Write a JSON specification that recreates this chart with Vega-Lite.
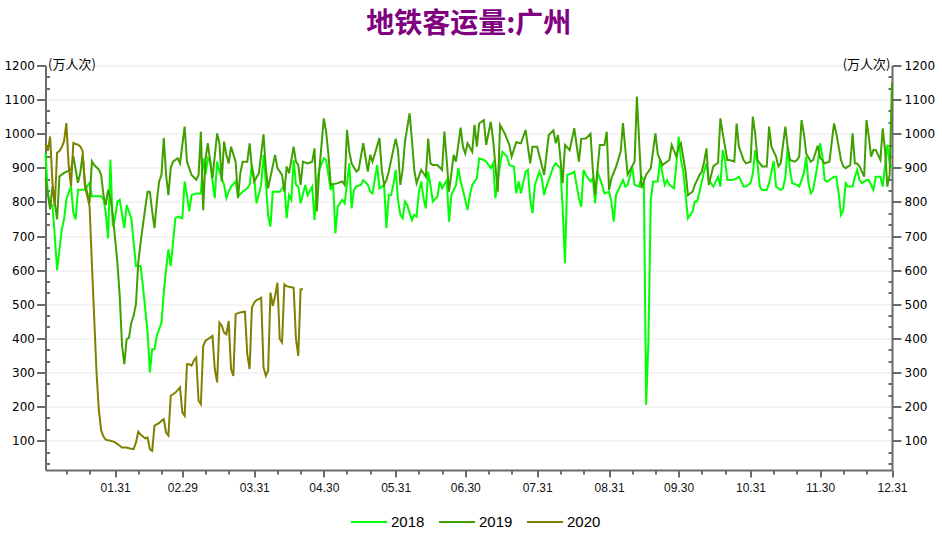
{
"$schema": "https://vega.github.io/schema/vega-lite/v6.json",
"width": 846.5,
"height": 404.5,
"autosize": {"type": "none"},
"padding": {"left": 45.5, "top": 65.5, "right": 50, "bottom": 63},
"background": "white",
"title": {"text": "地铁客运量:广州", "color": "#800080", "fontSize": 28, "fontWeight": "bold", "font": "Noto Sans CJK SC", "anchor": "middle", "frame": "group", "offset": 19},
"data": {"values": [
{"date":"2020-01-01","year":"2018","value":944},{"date":"2020-01-02","year":"2018","value":827},{"date":"2020-01-03","year":"2018","value":788},{"date":"2020-01-04","year":"2018","value":790},{"date":"2020-01-05","year":"2018","value":700},{"date":"2020-01-06","year":"2018","value":600},{"date":"2020-01-07","year":"2018","value":659},{"date":"2020-01-08","year":"2018","value":718},{"date":"2020-01-09","year":"2018","value":749},{"date":"2020-01-10","year":"2018","value":807},{"date":"2020-01-12","year":"2018","value":846},{"date":"2020-01-13","year":"2018","value":768},{"date":"2020-01-14","year":"2018","value":749},{"date":"2020-01-15","year":"2018","value":836},{"date":"2020-01-18","year":"2018","value":836},{"date":"2020-01-20","year":"2018","value":856},{"date":"2020-01-21","year":"2018","value":817},{"date":"2020-01-25","year":"2018","value":817},{"date":"2020-01-26","year":"2018","value":807},{"date":"2020-01-27","year":"2018","value":768},{"date":"2020-01-28","year":"2018","value":693},{"date":"2020-01-29","year":"2018","value":924},{"date":"2020-01-30","year":"2018","value":729},{"date":"2020-01-31","year":"2018","value":752},
{"date":"2020-02-01","year":"2018","value":801},{"date":"2020-02-02","year":"2018","value":806},{"date":"2020-02-04","year":"2018","value":723},{"date":"2020-02-05","year":"2018","value":791},{"date":"2020-02-07","year":"2018","value":752},{"date":"2020-02-09","year":"2018","value":612},{"date":"2020-02-11","year":"2018","value":612},{"date":"2020-02-12","year":"2018","value":554},{"date":"2020-02-14","year":"2018","value":420},{"date":"2020-02-15","year":"2018","value":300},{"date":"2020-02-16","year":"2018","value":368},{"date":"2020-02-17","year":"2018","value":368},{"date":"2020-02-18","year":"2018","value":407},{"date":"2020-02-20","year":"2018","value":446},{"date":"2020-02-21","year":"2018","value":534},{"date":"2020-02-22","year":"2018","value":602},{"date":"2020-02-23","year":"2018","value":661},{"date":"2020-02-24","year":"2018","value":612},{"date":"2020-02-26","year":"2018","value":752},{"date":"2020-02-27","year":"2018","value":757},{"date":"2020-02-29","year":"2018","value":752},
{"date":"2020-03-01","year":"2018","value":860},{"date":"2020-03-02","year":"2018","value":820},{"date":"2020-03-03","year":"2018","value":772},{"date":"2020-03-04","year":"2018","value":820},{"date":"2020-03-06","year":"2018","value":825},{"date":"2020-03-08","year":"2018","value":825},{"date":"2020-03-09","year":"2018","value":928},{"date":"2020-03-10","year":"2018","value":880},{"date":"2020-03-11","year":"2018","value":928},{"date":"2020-03-12","year":"2018","value":918},{"date":"2020-03-13","year":"2018","value":860},{"date":"2020-03-14","year":"2018","value":811},{"date":"2020-03-15","year":"2018","value":918},{"date":"2020-03-16","year":"2018","value":889},{"date":"2020-03-18","year":"2018","value":850},{"date":"2020-03-19","year":"2018","value":811},{"date":"2020-03-20","year":"2018","value":830},{"date":"2020-03-21","year":"2018","value":845},{"date":"2020-03-23","year":"2018","value":860},{"date":"2020-03-24","year":"2018","value":816},{"date":"2020-03-26","year":"2018","value":830},{"date":"2020-03-28","year":"2018","value":840},{"date":"2020-03-29","year":"2018","value":850},{"date":"2020-03-30","year":"2018","value":908},{"date":"2020-03-31","year":"2018","value":869},
{"date":"2020-04-01","year":"2018","value":796},{"date":"2020-04-03","year":"2018","value":850},{"date":"2020-04-04","year":"2018","value":938},{"date":"2020-04-05","year":"2018","value":860},{"date":"2020-04-06","year":"2018","value":760},{"date":"2020-04-07","year":"2018","value":728},{"date":"2020-04-08","year":"2018","value":830},{"date":"2020-04-11","year":"2018","value":830},{"date":"2020-04-13","year":"2018","value":850},{"date":"2020-04-14","year":"2018","value":752},{"date":"2020-04-15","year":"2018","value":820},{"date":"2020-04-16","year":"2018","value":806},{"date":"2020-04-17","year":"2018","value":923},{"date":"2020-04-18","year":"2018","value":850},{"date":"2020-04-19","year":"2018","value":845},{"date":"2020-04-20","year":"2018","value":796},{"date":"2020-04-22","year":"2018","value":850},{"date":"2020-04-23","year":"2018","value":820},{"date":"2020-04-25","year":"2018","value":845},{"date":"2020-04-26","year":"2018","value":747},{"date":"2020-04-27","year":"2018","value":855},{"date":"2020-04-28","year":"2018","value":894},{"date":"2020-04-30","year":"2018","value":928},
{"date":"2020-05-01","year":"2018","value":923},{"date":"2020-05-03","year":"2018","value":835},{"date":"2020-05-04","year":"2018","value":855},{"date":"2020-05-05","year":"2018","value":708},{"date":"2020-05-06","year":"2018","value":786},{"date":"2020-05-08","year":"2018","value":806},{"date":"2020-05-09","year":"2018","value":796},{"date":"2020-05-11","year":"2018","value":913},{"date":"2020-05-12","year":"2018","value":781},{"date":"2020-05-13","year":"2018","value":835},{"date":"2020-05-14","year":"2018","value":845},{"date":"2020-05-16","year":"2018","value":850},{"date":"2020-05-17","year":"2018","value":864},{"date":"2020-05-19","year":"2018","value":850},{"date":"2020-05-20","year":"2018","value":830},{"date":"2020-05-21","year":"2018","value":825},{"date":"2020-05-23","year":"2018","value":908},{"date":"2020-05-24","year":"2018","value":840},{"date":"2020-05-26","year":"2018","value":850},{"date":"2020-05-27","year":"2018","value":723},{"date":"2020-05-28","year":"2018","value":820},{"date":"2020-05-29","year":"2018","value":820},{"date":"2020-05-30","year":"2018","value":850},{"date":"2020-05-31","year":"2018","value":894},
{"date":"2020-06-01","year":"2018","value":806},{"date":"2020-06-02","year":"2018","value":762},{"date":"2020-06-03","year":"2018","value":752},{"date":"2020-06-04","year":"2018","value":801},{"date":"2020-06-05","year":"2018","value":791},{"date":"2020-06-06","year":"2018","value":767},{"date":"2020-06-07","year":"2018","value":747},{"date":"2020-06-08","year":"2018","value":762},{"date":"2020-06-09","year":"2018","value":757},{"date":"2020-06-10","year":"2018","value":830},{"date":"2020-06-11","year":"2018","value":860},{"date":"2020-06-12","year":"2018","value":811},{"date":"2020-06-13","year":"2018","value":781},{"date":"2020-06-14","year":"2018","value":889},{"date":"2020-06-15","year":"2018","value":850},{"date":"2020-06-16","year":"2018","value":801},{"date":"2020-06-18","year":"2018","value":816},{"date":"2020-06-19","year":"2018","value":860},{"date":"2020-06-20","year":"2018","value":840},{"date":"2020-06-22","year":"2018","value":864},{"date":"2020-06-23","year":"2018","value":742},{"date":"2020-06-24","year":"2018","value":820},{"date":"2020-06-26","year":"2018","value":850},{"date":"2020-06-27","year":"2018","value":899},{"date":"2020-06-28","year":"2018","value":860},{"date":"2020-06-29","year":"2018","value":835},
{"date":"2020-07-01","year":"2018","value":776},{"date":"2020-07-02","year":"2018","value":820},{"date":"2020-07-03","year":"2018","value":850},{"date":"2020-07-05","year":"2018","value":869},{"date":"2020-07-06","year":"2018","value":928},{"date":"2020-07-08","year":"2018","value":923},{"date":"2020-07-09","year":"2018","value":918},{"date":"2020-07-11","year":"2018","value":899},{"date":"2020-07-12","year":"2018","value":913},{"date":"2020-07-13","year":"2018","value":811},{"date":"2020-07-15","year":"2018","value":908},{"date":"2020-07-16","year":"2018","value":947},{"date":"2020-07-18","year":"2018","value":933},{"date":"2020-07-19","year":"2018","value":908},{"date":"2020-07-21","year":"2018","value":903},{"date":"2020-07-22","year":"2018","value":825},{"date":"2020-07-23","year":"2018","value":860},{"date":"2020-07-24","year":"2018","value":825},{"date":"2020-07-26","year":"2018","value":889},{"date":"2020-07-27","year":"2018","value":894},{"date":"2020-07-28","year":"2018","value":806},{"date":"2020-07-29","year":"2018","value":767},{"date":"2020-07-30","year":"2018","value":850},{"date":"2020-07-31","year":"2018","value":869},
{"date":"2020-08-01","year":"2018","value":889},{"date":"2020-08-02","year":"2018","value":870},{"date":"2020-08-03","year":"2018","value":820},{"date":"2020-08-04","year":"2018","value":845},{"date":"2020-08-06","year":"2018","value":884},{"date":"2020-08-07","year":"2018","value":903},{"date":"2020-08-08","year":"2018","value":913},{"date":"2020-08-10","year":"2018","value":899},{"date":"2020-08-11","year":"2018","value":781},{"date":"2020-08-12","year":"2018","value":620},{"date":"2020-08-13","year":"2018","value":880},{"date":"2020-08-15","year":"2018","value":884},{"date":"2020-08-16","year":"2018","value":889},{"date":"2020-08-18","year":"2018","value":811},{"date":"2020-08-19","year":"2018","value":786},{"date":"2020-08-20","year":"2018","value":894},{"date":"2020-08-21","year":"2018","value":879},{"date":"2020-08-23","year":"2018","value":860},{"date":"2020-08-24","year":"2018","value":869},{"date":"2020-08-25","year":"2018","value":796},{"date":"2020-08-26","year":"2018","value":889},{"date":"2020-08-28","year":"2018","value":850},{"date":"2020-08-29","year":"2018","value":825},{"date":"2020-08-31","year":"2018","value":830},
{"date":"2020-09-01","year":"2018","value":801},{"date":"2020-09-02","year":"2018","value":742},{"date":"2020-09-03","year":"2018","value":820},{"date":"2020-09-05","year":"2018","value":850},{"date":"2020-09-06","year":"2018","value":864},{"date":"2020-09-07","year":"2018","value":845},{"date":"2020-09-08","year":"2018","value":850},{"date":"2020-09-10","year":"2018","value":903},{"date":"2020-09-11","year":"2018","value":850},{"date":"2020-09-13","year":"2018","value":845},{"date":"2020-09-14","year":"2018","value":874},{"date":"2020-09-15","year":"2018","value":864},{"date":"2020-09-16","year":"2018","value":205},{"date":"2020-09-17","year":"2018","value":400},{"date":"2020-09-18","year":"2018","value":806},{"date":"2020-09-19","year":"2018","value":860},{"date":"2020-09-21","year":"2018","value":860},{"date":"2020-09-22","year":"2018","value":923},{"date":"2020-09-23","year":"2018","value":884},{"date":"2020-09-24","year":"2018","value":850},{"date":"2020-09-25","year":"2018","value":864},{"date":"2020-09-26","year":"2018","value":850},{"date":"2020-09-28","year":"2018","value":840},{"date":"2020-09-29","year":"2018","value":908},{"date":"2020-09-30","year":"2018","value":991},
{"date":"2020-10-01","year":"2018","value":923},{"date":"2020-10-02","year":"2018","value":889},{"date":"2020-10-03","year":"2018","value":820},{"date":"2020-10-04","year":"2018","value":752},{"date":"2020-10-06","year":"2018","value":772},{"date":"2020-10-07","year":"2018","value":801},{"date":"2020-10-08","year":"2018","value":801},{"date":"2020-10-10","year":"2018","value":860},{"date":"2020-10-11","year":"2018","value":889},{"date":"2020-10-12","year":"2018","value":913},{"date":"2020-10-13","year":"2018","value":864},{"date":"2020-10-15","year":"2018","value":845},{"date":"2020-10-17","year":"2018","value":874},{"date":"2020-10-18","year":"2018","value":845},{"date":"2020-10-19","year":"2018","value":952},{"date":"2020-10-20","year":"2018","value":923},{"date":"2020-10-21","year":"2018","value":864},{"date":"2020-10-23","year":"2018","value":864},{"date":"2020-10-25","year":"2018","value":869},{"date":"2020-10-26","year":"2018","value":874},{"date":"2020-10-28","year":"2018","value":845},{"date":"2020-10-29","year":"2018","value":845},{"date":"2020-10-31","year":"2018","value":855},
{"date":"2020-11-01","year":"2018","value":884},{"date":"2020-11-02","year":"2018","value":952},{"date":"2020-11-03","year":"2018","value":913},{"date":"2020-11-04","year":"2018","value":845},{"date":"2020-11-05","year":"2018","value":835},{"date":"2020-11-07","year":"2018","value":835},{"date":"2020-11-08","year":"2018","value":855},{"date":"2020-11-10","year":"2018","value":920},{"date":"2020-11-11","year":"2018","value":845},{"date":"2020-11-13","year":"2018","value":835},{"date":"2020-11-14","year":"2018","value":840},{"date":"2020-11-15","year":"2018","value":870},{"date":"2020-11-16","year":"2018","value":962},{"date":"2020-11-17","year":"2018","value":894},{"date":"2020-11-18","year":"2018","value":855},{"date":"2020-11-20","year":"2018","value":850},{"date":"2020-11-21","year":"2018","value":845},{"date":"2020-11-23","year":"2018","value":884},{"date":"2020-11-24","year":"2018","value":933},{"date":"2020-11-25","year":"2018","value":855},{"date":"2020-11-26","year":"2018","value":825},{"date":"2020-11-27","year":"2018","value":835},{"date":"2020-11-29","year":"2018","value":913},{"date":"2020-11-30","year":"2018","value":972},
{"date":"2020-12-01","year":"2018","value":933},{"date":"2020-12-02","year":"2018","value":864},{"date":"2020-12-03","year":"2018","value":859},{"date":"2020-12-06","year":"2018","value":874},{"date":"2020-12-07","year":"2018","value":874},{"date":"2020-12-08","year":"2018","value":825},{"date":"2020-12-09","year":"2018","value":762},{"date":"2020-12-10","year":"2018","value":776},{"date":"2020-12-11","year":"2018","value":855},{"date":"2020-12-12","year":"2018","value":845},{"date":"2020-12-14","year":"2018","value":845},{"date":"2020-12-15","year":"2018","value":874},{"date":"2020-12-16","year":"2018","value":894},{"date":"2020-12-17","year":"2018","value":864},{"date":"2020-12-18","year":"2018","value":855},{"date":"2020-12-20","year":"2018","value":864},{"date":"2020-12-21","year":"2018","value":864},{"date":"2020-12-23","year":"2018","value":835},{"date":"2020-12-24","year":"2018","value":874},{"date":"2020-12-26","year":"2018","value":874},{"date":"2020-12-27","year":"2018","value":845},{"date":"2020-12-29","year":"2018","value":967},{"date":"2020-12-30","year":"2018","value":913},{"date":"2020-12-31","year":"2018","value":900},

{"date":"2020-01-01","year":"2019","value":870},{"date":"2020-01-03","year":"2019","value":778},{"date":"2020-01-04","year":"2019","value":846},{"date":"2020-01-06","year":"2019","value":749},{"date":"2020-01-07","year":"2019","value":875},{"date":"2020-01-09","year":"2019","value":885},{"date":"2020-01-12","year":"2019","value":895},{"date":"2020-01-13","year":"2019","value":934},{"date":"2020-01-15","year":"2019","value":856},{"date":"2020-01-16","year":"2019","value":885},{"date":"2020-01-17","year":"2019","value":939},{"date":"2020-01-18","year":"2019","value":856},{"date":"2020-01-20","year":"2019","value":797},{"date":"2020-01-21","year":"2019","value":919},{"date":"2020-01-22","year":"2019","value":908},{"date":"2020-01-24","year":"2019","value":895},{"date":"2020-01-25","year":"2019","value":879},{"date":"2020-01-26","year":"2019","value":820},{"date":"2020-01-27","year":"2019","value":791},{"date":"2020-01-28","year":"2019","value":836},{"date":"2020-01-29","year":"2019","value":811},{"date":"2020-01-30","year":"2019","value":762},{"date":"2020-01-31","year":"2019","value":693},
{"date":"2020-02-01","year":"2019","value":622},{"date":"2020-02-02","year":"2019","value":524},{"date":"2020-02-03","year":"2019","value":380},{"date":"2020-02-04","year":"2019","value":324},{"date":"2020-02-05","year":"2019","value":398},{"date":"2020-02-06","year":"2019","value":402},{"date":"2020-02-07","year":"2019","value":446},{"date":"2020-02-08","year":"2019","value":466},{"date":"2020-02-09","year":"2019","value":500},{"date":"2020-02-10","year":"2019","value":622},{"date":"2020-02-11","year":"2019","value":680},{"date":"2020-02-12","year":"2019","value":732},{"date":"2020-02-14","year":"2019","value":830},{"date":"2020-02-15","year":"2019","value":830},{"date":"2020-02-16","year":"2019","value":772},{"date":"2020-02-17","year":"2019","value":723},{"date":"2020-02-18","year":"2019","value":801},{"date":"2020-02-19","year":"2019","value":860},{"date":"2020-02-20","year":"2019","value":879},{"date":"2020-02-21","year":"2019","value":987},{"date":"2020-02-22","year":"2019","value":879},{"date":"2020-02-23","year":"2019","value":820},{"date":"2020-02-24","year":"2019","value":900},{"date":"2020-02-25","year":"2019","value":918},{"date":"2020-02-27","year":"2019","value":928},{"date":"2020-02-28","year":"2019","value":913},{"date":"2020-02-29","year":"2019","value":967},
{"date":"2020-03-01","year":"2019","value":1021},{"date":"2020-03-02","year":"2019","value":918},{"date":"2020-03-04","year":"2019","value":879},{"date":"2020-03-06","year":"2019","value":865},{"date":"2020-03-07","year":"2019","value":879},{"date":"2020-03-08","year":"2019","value":1006},{"date":"2020-03-09","year":"2019","value":776},{"date":"2020-03-10","year":"2019","value":928},{"date":"2020-03-11","year":"2019","value":972},{"date":"2020-03-13","year":"2019","value":870},{"date":"2020-03-15","year":"2019","value":1001},{"date":"2020-03-16","year":"2019","value":972},{"date":"2020-03-17","year":"2019","value":860},{"date":"2020-03-18","year":"2019","value":977},{"date":"2020-03-19","year":"2019","value":938},{"date":"2020-03-20","year":"2019","value":913},{"date":"2020-03-21","year":"2019","value":962},{"date":"2020-03-23","year":"2019","value":918},{"date":"2020-03-24","year":"2019","value":811},{"date":"2020-03-25","year":"2019","value":884},{"date":"2020-03-26","year":"2019","value":918},{"date":"2020-03-28","year":"2019","value":918},{"date":"2020-03-29","year":"2019","value":972},{"date":"2020-03-30","year":"2019","value":899},{"date":"2020-03-31","year":"2019","value":860},
{"date":"2020-04-02","year":"2019","value":884},{"date":"2020-04-04","year":"2019","value":998},{"date":"2020-04-05","year":"2019","value":899},{"date":"2020-04-06","year":"2019","value":840},{"date":"2020-04-09","year":"2019","value":938},{"date":"2020-04-10","year":"2019","value":899},{"date":"2020-04-12","year":"2019","value":879},{"date":"2020-04-13","year":"2019","value":830},{"date":"2020-04-14","year":"2019","value":904},{"date":"2020-04-15","year":"2019","value":884},{"date":"2020-04-17","year":"2019","value":962},{"date":"2020-04-18","year":"2019","value":918},{"date":"2020-04-19","year":"2019","value":908},{"date":"2020-04-20","year":"2019","value":850},{"date":"2020-04-21","year":"2019","value":918},{"date":"2020-04-23","year":"2019","value":913},{"date":"2020-04-25","year":"2019","value":918},{"date":"2020-04-26","year":"2019","value":957},{"date":"2020-04-27","year":"2019","value":772},{"date":"2020-04-28","year":"2019","value":889},{"date":"2020-04-30","year":"2019","value":1045},
{"date":"2020-05-01","year":"2019","value":1006},{"date":"2020-05-02","year":"2019","value":938},{"date":"2020-05-03","year":"2019","value":850},{"date":"2020-05-06","year":"2019","value":855},{"date":"2020-05-08","year":"2019","value":860},{"date":"2020-05-09","year":"2019","value":850},{"date":"2020-05-10","year":"2019","value":1011},{"date":"2020-05-11","year":"2019","value":947},{"date":"2020-05-12","year":"2019","value":913},{"date":"2020-05-14","year":"2019","value":889},{"date":"2020-05-15","year":"2019","value":894},{"date":"2020-05-17","year":"2019","value":972},{"date":"2020-05-19","year":"2019","value":889},{"date":"2020-05-20","year":"2019","value":938},{"date":"2020-05-21","year":"2019","value":918},{"date":"2020-05-24","year":"2019","value":987},{"date":"2020-05-25","year":"2019","value":894},{"date":"2020-05-26","year":"2019","value":850},{"date":"2020-05-27","year":"2019","value":864},{"date":"2020-05-28","year":"2019","value":889},{"date":"2020-05-31","year":"2019","value":985},
{"date":"2020-06-01","year":"2019","value":952},{"date":"2020-06-02","year":"2019","value":850},{"date":"2020-06-03","year":"2019","value":894},{"date":"2020-06-04","year":"2019","value":977},{"date":"2020-06-06","year":"2019","value":1060},{"date":"2020-06-07","year":"2019","value":982},{"date":"2020-06-08","year":"2019","value":894},{"date":"2020-06-09","year":"2019","value":855},{"date":"2020-06-11","year":"2019","value":894},{"date":"2020-06-12","year":"2019","value":884},{"date":"2020-06-13","year":"2019","value":874},{"date":"2020-06-14","year":"2019","value":986},{"date":"2020-06-15","year":"2019","value":913},{"date":"2020-06-16","year":"2019","value":908},{"date":"2020-06-18","year":"2019","value":908},{"date":"2020-06-20","year":"2019","value":894},{"date":"2020-06-21","year":"2019","value":1006},{"date":"2020-06-22","year":"2019","value":923},{"date":"2020-06-23","year":"2019","value":830},{"date":"2020-06-25","year":"2019","value":938},{"date":"2020-06-26","year":"2019","value":918},{"date":"2020-06-28","year":"2019","value":1018},{"date":"2020-06-29","year":"2019","value":962},{"date":"2020-06-30","year":"2019","value":942},
{"date":"2020-07-01","year":"2019","value":972},{"date":"2020-07-03","year":"2019","value":947},{"date":"2020-07-04","year":"2019","value":1026},{"date":"2020-07-05","year":"2019","value":962},{"date":"2020-07-06","year":"2019","value":1030},{"date":"2020-07-08","year":"2019","value":1040},{"date":"2020-07-09","year":"2019","value":967},{"date":"2020-07-11","year":"2019","value":1035},{"date":"2020-07-12","year":"2019","value":982},{"date":"2020-07-14","year":"2019","value":830},{"date":"2020-07-15","year":"2019","value":1026},{"date":"2020-07-17","year":"2019","value":1001},{"date":"2020-07-19","year":"2019","value":967},{"date":"2020-07-20","year":"2019","value":933},{"date":"2020-07-22","year":"2019","value":975},{"date":"2020-07-24","year":"2019","value":972},{"date":"2020-07-26","year":"2019","value":1011},{"date":"2020-07-27","year":"2019","value":962},{"date":"2020-07-28","year":"2019","value":913},{"date":"2020-07-29","year":"2019","value":962},{"date":"2020-07-31","year":"2019","value":962},
{"date":"2020-08-03","year":"2019","value":879},{"date":"2020-08-05","year":"2019","value":996},{"date":"2020-08-07","year":"2019","value":1010},{"date":"2020-08-08","year":"2019","value":972},{"date":"2020-08-09","year":"2019","value":996},{"date":"2020-08-10","year":"2019","value":928},{"date":"2020-08-11","year":"2019","value":855},{"date":"2020-08-12","year":"2019","value":967},{"date":"2020-08-14","year":"2019","value":952},{"date":"2020-08-16","year":"2019","value":1016},{"date":"2020-08-18","year":"2019","value":918},{"date":"2020-08-19","year":"2019","value":985},{"date":"2020-08-21","year":"2019","value":986},{"date":"2020-08-23","year":"2019","value":1000},{"date":"2020-08-24","year":"2019","value":894},{"date":"2020-08-25","year":"2019","value":820},{"date":"2020-08-27","year":"2019","value":967},{"date":"2020-08-29","year":"2019","value":967},{"date":"2020-08-30","year":"2019","value":1006},{"date":"2020-08-31","year":"2019","value":835},
{"date":"2020-09-01","year":"2019","value":869},{"date":"2020-09-03","year":"2019","value":903},{"date":"2020-09-05","year":"2019","value":947},{"date":"2020-09-06","year":"2019","value":1031},{"date":"2020-09-08","year":"2019","value":880},{"date":"2020-09-11","year":"2019","value":918},{"date":"2020-09-12","year":"2019","value":1109},{"date":"2020-09-14","year":"2019","value":840},{"date":"2020-09-16","year":"2019","value":880},{"date":"2020-09-18","year":"2019","value":899},{"date":"2020-09-20","year":"2019","value":1001},{"date":"2020-09-21","year":"2019","value":940},{"date":"2020-09-23","year":"2019","value":908},{"date":"2020-09-26","year":"2019","value":923},{"date":"2020-09-27","year":"2019","value":967},{"date":"2020-09-29","year":"2019","value":933},{"date":"2020-09-30","year":"2019","value":960},
{"date":"2020-10-01","year":"2019","value":972},{"date":"2020-10-03","year":"2019","value":889},{"date":"2020-10-04","year":"2019","value":820},{"date":"2020-10-06","year":"2019","value":830},{"date":"2020-10-07","year":"2019","value":850},{"date":"2020-10-09","year":"2019","value":879},{"date":"2020-10-10","year":"2019","value":889},{"date":"2020-10-11","year":"2019","value":918},{"date":"2020-10-12","year":"2019","value":957},{"date":"2020-10-13","year":"2019","value":850},{"date":"2020-10-15","year":"2019","value":905},{"date":"2020-10-17","year":"2019","value":915},{"date":"2020-10-18","year":"2019","value":1045},{"date":"2020-10-19","year":"2019","value":1001},{"date":"2020-10-21","year":"2019","value":923},{"date":"2020-10-22","year":"2019","value":923},{"date":"2020-10-24","year":"2019","value":918},{"date":"2020-10-25","year":"2019","value":1030},{"date":"2020-10-26","year":"2019","value":962},{"date":"2020-10-28","year":"2019","value":923},{"date":"2020-10-29","year":"2019","value":913},{"date":"2020-10-31","year":"2019","value":918},
{"date":"2020-11-01","year":"2019","value":1050},{"date":"2020-11-02","year":"2019","value":1001},{"date":"2020-11-03","year":"2019","value":923},{"date":"2020-11-05","year":"2019","value":904},{"date":"2020-11-07","year":"2019","value":904},{"date":"2020-11-08","year":"2019","value":1021},{"date":"2020-11-09","year":"2019","value":962},{"date":"2020-11-11","year":"2019","value":933},{"date":"2020-11-12","year":"2019","value":904},{"date":"2020-11-13","year":"2019","value":913},{"date":"2020-11-15","year":"2019","value":1021},{"date":"2020-11-16","year":"2019","value":962},{"date":"2020-11-17","year":"2019","value":923},{"date":"2020-11-19","year":"2019","value":918},{"date":"2020-11-20","year":"2019","value":923},{"date":"2020-11-21","year":"2019","value":933},{"date":"2020-11-22","year":"2019","value":1040},{"date":"2020-11-23","year":"2019","value":1001},{"date":"2020-11-24","year":"2019","value":942},{"date":"2020-11-26","year":"2019","value":918},{"date":"2020-11-27","year":"2019","value":923},{"date":"2020-11-29","year":"2019","value":965},{"date":"2020-11-30","year":"2019","value":930},
{"date":"2020-12-02","year":"2019","value":913},{"date":"2020-12-04","year":"2019","value":918},{"date":"2020-12-06","year":"2019","value":1030},{"date":"2020-12-07","year":"2019","value":1001},{"date":"2020-12-09","year":"2019","value":923},{"date":"2020-12-10","year":"2019","value":904},{"date":"2020-12-11","year":"2019","value":899},{"date":"2020-12-13","year":"2019","value":908},{"date":"2020-12-14","year":"2019","value":1001},{"date":"2020-12-15","year":"2019","value":913},{"date":"2020-12-16","year":"2019","value":913},{"date":"2020-12-17","year":"2019","value":904},{"date":"2020-12-19","year":"2019","value":874},{"date":"2020-12-20","year":"2019","value":1040},{"date":"2020-12-21","year":"2019","value":991},{"date":"2020-12-22","year":"2019","value":933},{"date":"2020-12-23","year":"2019","value":952},{"date":"2020-12-24","year":"2019","value":952},{"date":"2020-12-26","year":"2019","value":923},{"date":"2020-12-27","year":"2019","value":1016},{"date":"2020-12-28","year":"2019","value":952},{"date":"2020-12-29","year":"2019","value":845},{"date":"2020-12-30","year":"2019","value":880},{"date":"2020-12-31","year":"2019","value":1150},

{"date":"2020-01-01","year":"2020","value":970},{"date":"2020-01-02","year":"2020","value":950},{"date":"2020-01-03","year":"2020","value":992},{"date":"2020-01-04","year":"2020","value":856},{"date":"2020-01-05","year":"2020","value":788},{"date":"2020-01-06","year":"2020","value":944},{"date":"2020-01-07","year":"2020","value":949},{"date":"2020-01-08","year":"2020","value":960},{"date":"2020-01-09","year":"2020","value":978},{"date":"2020-01-10","year":"2020","value":1031},{"date":"2020-01-11","year":"2020","value":905},{"date":"2020-01-12","year":"2020","value":846},{"date":"2020-01-13","year":"2020","value":973},{"date":"2020-01-14","year":"2020","value":970},{"date":"2020-01-15","year":"2020","value":968},{"date":"2020-01-16","year":"2020","value":963},{"date":"2020-01-17","year":"2020","value":949},{"date":"2020-01-18","year":"2020","value":846},{"date":"2020-01-19","year":"2020","value":817},{"date":"2020-01-20","year":"2020","value":788},{"date":"2020-01-21","year":"2020","value":620},{"date":"2020-01-22","year":"2020","value":460},{"date":"2020-01-23","year":"2020","value":300},{"date":"2020-01-24","year":"2020","value":190},{"date":"2020-01-25","year":"2020","value":130},{"date":"2020-01-26","year":"2020","value":112},{"date":"2020-01-27","year":"2020","value":103},{"date":"2020-01-28","year":"2020","value":101},{"date":"2020-01-29","year":"2020","value":100},{"date":"2020-01-30","year":"2020","value":98},{"date":"2020-01-31","year":"2020","value":95},
{"date":"2020-02-01","year":"2020","value":90},{"date":"2020-02-02","year":"2020","value":85},{"date":"2020-02-03","year":"2020","value":80},{"date":"2020-02-04","year":"2020","value":80},{"date":"2020-02-05","year":"2020","value":80},{"date":"2020-02-06","year":"2020","value":78},{"date":"2020-02-07","year":"2020","value":76},{"date":"2020-02-08","year":"2020","value":75},{"date":"2020-02-09","year":"2020","value":95},{"date":"2020-02-10","year":"2020","value":126},{"date":"2020-02-11","year":"2020","value":118},{"date":"2020-02-12","year":"2020","value":112},{"date":"2020-02-13","year":"2020","value":107},{"date":"2020-02-14","year":"2020","value":109},{"date":"2020-02-15","year":"2020","value":75},{"date":"2020-02-16","year":"2020","value":70},{"date":"2020-02-17","year":"2020","value":144},{"date":"2020-02-18","year":"2020","value":148},{"date":"2020-02-19","year":"2020","value":152},{"date":"2020-02-20","year":"2020","value":158},{"date":"2020-02-21","year":"2020","value":163},{"date":"2020-02-22","year":"2020","value":124},{"date":"2020-02-23","year":"2020","value":115},{"date":"2020-02-24","year":"2020","value":232},{"date":"2020-02-25","year":"2020","value":236},{"date":"2020-02-26","year":"2020","value":241},{"date":"2020-02-27","year":"2020","value":248},{"date":"2020-02-28","year":"2020","value":256},{"date":"2020-02-29","year":"2020","value":183},
{"date":"2020-03-01","year":"2020","value":173},{"date":"2020-03-02","year":"2020","value":324},{"date":"2020-03-03","year":"2020","value":324},{"date":"2020-03-04","year":"2020","value":320},{"date":"2020-03-05","year":"2020","value":335},{"date":"2020-03-06","year":"2020","value":344},{"date":"2020-03-07","year":"2020","value":217},{"date":"2020-03-08","year":"2020","value":207},{"date":"2020-03-09","year":"2020","value":378},{"date":"2020-03-10","year":"2020","value":393},{"date":"2020-03-11","year":"2020","value":398},{"date":"2020-03-12","year":"2020","value":402},{"date":"2020-03-13","year":"2020","value":407},{"date":"2020-03-14","year":"2020","value":310},{"date":"2020-03-15","year":"2020","value":271},{"date":"2020-03-16","year":"2020","value":446},{"date":"2020-03-17","year":"2020","value":437},{"date":"2020-03-18","year":"2020","value":417},{"date":"2020-03-19","year":"2020","value":412},{"date":"2020-03-20","year":"2020","value":451},{"date":"2020-03-21","year":"2020","value":310},{"date":"2020-03-22","year":"2020","value":290},{"date":"2020-03-23","year":"2020","value":471},{"date":"2020-03-24","year":"2020","value":474},{"date":"2020-03-25","year":"2020","value":476},{"date":"2020-03-26","year":"2020","value":477},{"date":"2020-03-27","year":"2020","value":478},{"date":"2020-03-28","year":"2020","value":354},{"date":"2020-03-29","year":"2020","value":310},{"date":"2020-03-30","year":"2020","value":490},{"date":"2020-03-31","year":"2020","value":505},
{"date":"2020-04-01","year":"2020","value":512},{"date":"2020-04-02","year":"2020","value":515},{"date":"2020-04-03","year":"2020","value":519},{"date":"2020-04-04","year":"2020","value":315},{"date":"2020-04-05","year":"2020","value":290},{"date":"2020-04-06","year":"2020","value":305},{"date":"2020-04-07","year":"2020","value":534},{"date":"2020-04-08","year":"2020","value":495},{"date":"2020-04-09","year":"2020","value":524},{"date":"2020-04-10","year":"2020","value":563},{"date":"2020-04-11","year":"2020","value":398},{"date":"2020-04-12","year":"2020","value":388},{"date":"2020-04-13","year":"2020","value":558},{"date":"2020-04-14","year":"2020","value":553},{"date":"2020-04-15","year":"2020","value":551},{"date":"2020-04-16","year":"2020","value":550},{"date":"2020-04-17","year":"2020","value":548},{"date":"2020-04-18","year":"2020","value":398},{"date":"2020-04-19","year":"2020","value":349},{"date":"2020-04-20","year":"2020","value":544},{"date":"2020-04-21","year":"2020","value":544}
]},
"encoding": {
  "x": {
    "field": "date", "type": "temporal",
    "scale": {"type": "utc", "nice": false, "domain": [{"year":2020,"month":1,"date":1,"utc":true},{"year":2020,"month":12,"date":31,"utc":true}]},
    "axis": {
      "title": null, "grid": false,
      "values": [
        {"year":2020,"month":1,"date":10,"utc":true},{"year":2020,"month":1,"date":20,"utc":true},{"year":2020,"month":1,"date":31,"utc":true},
        {"year":2020,"month":2,"date":10,"utc":true},{"year":2020,"month":2,"date":20,"utc":true},{"year":2020,"month":2,"date":29,"utc":true},
        {"year":2020,"month":3,"date":10,"utc":true},{"year":2020,"month":3,"date":20,"utc":true},{"year":2020,"month":3,"date":31,"utc":true},
        {"year":2020,"month":4,"date":10,"utc":true},{"year":2020,"month":4,"date":20,"utc":true},{"year":2020,"month":4,"date":30,"utc":true},
        {"year":2020,"month":5,"date":10,"utc":true},{"year":2020,"month":5,"date":20,"utc":true},{"year":2020,"month":5,"date":31,"utc":true},
        {"year":2020,"month":6,"date":10,"utc":true},{"year":2020,"month":6,"date":20,"utc":true},{"year":2020,"month":6,"date":30,"utc":true},
        {"year":2020,"month":7,"date":10,"utc":true},{"year":2020,"month":7,"date":20,"utc":true},{"year":2020,"month":7,"date":31,"utc":true},
        {"year":2020,"month":8,"date":10,"utc":true},{"year":2020,"month":8,"date":20,"utc":true},{"year":2020,"month":8,"date":31,"utc":true},
        {"year":2020,"month":9,"date":10,"utc":true},{"year":2020,"month":9,"date":20,"utc":true},{"year":2020,"month":9,"date":30,"utc":true},
        {"year":2020,"month":10,"date":10,"utc":true},{"year":2020,"month":10,"date":20,"utc":true},{"year":2020,"month":10,"date":31,"utc":true},
        {"year":2020,"month":11,"date":10,"utc":true},{"year":2020,"month":11,"date":20,"utc":true},{"year":2020,"month":11,"date":30,"utc":true},
        {"year":2020,"month":12,"date":10,"utc":true},{"year":2020,"month":12,"date":20,"utc":true},{"year":2020,"month":12,"date":31,"utc":true}
      ],
      "labelExpr": "utcdate(datum.value) > 25 ? utcFormat(datum.value, '%m.%d') : ''",
      "tickSize": {"condition": {"test": "utcdate(datum.value) > 25", "value": 7}, "value": 4},
      "tickWidth": 2, "tickColor": "#6b6b6b", "domainColor": "#6b6b6b", "domainWidth": 2,
      "labelFont": "Liberation Sans", "labelFontSize": 12, "labelColor": "#111111",
      "labelPadding": 5, "labelOverlap": false, "labelFlush": false
    }
  }
},
"layer": [
  {
    "mark": {"type": "line", "strokeWidth": 2},
    "encoding": {
      "y": {
        "field": "value", "type": "quantitative",
        "scale": {"domain": [14, 1200], "nice": false, "zero": false},
        "axis": {
          "orient": "left",
          "title": "(万人次)", "titleAngle": 0, "titleAlign": "left", "titleBaseline": "middle",
          "titleX": 2, "titleY": -1.5, "titleFont": "Noto Sans CJK SC", "titleFontSize": 13, "titleFontWeight": "normal", "titleColor": "#000000",
          "values": [1200,1166.667,1133.333,1100,1066.667,1033.333,1000,966.667,933.333,900,866.667,833.333,800,766.667,733.333,700,666.667,633.333,600,566.667,533.333,500,466.667,433.333,400,366.667,333.333,300,266.667,233.333,200,166.667,133.333,100,66.667,33.333],
          "labelExpr": "abs(datum.value % 100) < 1 ? format(datum.value, 'd') : ''",
          "labelFont": "DejaVu Sans", "labelFontSize": 12, "labelColor": "#000000", "labelPadding": 2, "labelOverlap": false,
          "tickSize": {"condition": {"test": "abs(datum.value % 100) < 1", "value": 9}, "value": -4},
          "tickWidth": 2, "tickColor": "#6b6b6b", "domainColor": "#6b6b6b", "domainWidth": 2,
          "grid": true, "gridColor": "#e9e9e9",
          "gridOpacity": {"condition": {"test": "abs(datum.value % 100) < 1", "value": 1}, "value": 0}
        }
      },
      "color": {
        "field": "year", "type": "nominal",
        "scale": {"domain": ["2018", "2019", "2020"], "range": ["#00ff00", "#40a000", "#808000"]},
        "legend": {
          "title": null, "orient": "none", "legendX": 304.5, "legendY": 437.5, "direction": "horizontal",
          "symbolType": "stroke", "symbolSize": 1296, "symbolStrokeWidth": 2,
          "labelFont": "Liberation Sans", "labelFontSize": 15, "labelColor": "#000000",
          "labelOffset": 3, "columnPadding": 10
        }
      }
    }
  },
  {
    "mark": {"type": "line", "strokeOpacity": 0},
    "encoding": {
      "detail": {"field": "year"},
      "y": {
        "field": "value", "type": "quantitative",
        "axis": {
          "orient": "right",
          "title": "(万人次)", "titleAngle": 0, "titleAlign": "right", "titleBaseline": "middle",
          "titleX": -2, "titleY": -1.5, "titleFont": "Noto Sans CJK SC", "titleFontSize": 13, "titleFontWeight": "normal", "titleColor": "#000000",
          "values": [1200,1166.667,1133.333,1100,1066.667,1033.333,1000,966.667,933.333,900,866.667,833.333,800,766.667,733.333,700,666.667,633.333,600,566.667,533.333,500,466.667,433.333,400,366.667,333.333,300,266.667,233.333,200,166.667,133.333,100,66.667,33.333],
          "labelExpr": "abs(datum.value % 100) < 1 ? format(datum.value, 'd') : ''",
          "labelFont": "DejaVu Sans", "labelFontSize": 12, "labelColor": "#000000", "labelPadding": 3, "labelOverlap": false,
          "tickSize": {"condition": {"test": "abs(datum.value % 100) < 1", "value": 9}, "value": -4},
          "tickWidth": 2, "tickColor": "#6b6b6b", "domainColor": "#6b6b6b", "domainWidth": 2,
          "grid": false
        }
      }
    }
  }
],
"resolve": {"axis": {"y": "independent"}},
"config": {"view": {"stroke": null}}
}
